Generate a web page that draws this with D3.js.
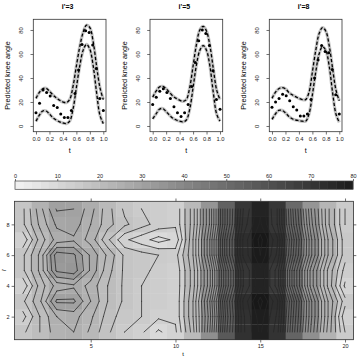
<!DOCTYPE html>
<html>
<head>
<meta charset="utf-8">
<script src="https://cdn.jsdelivr.net/npm/d3@7"></script>
<style>
  body { margin: 0; background: #fff; }
  text { font-family: "Liberation Sans", Arial, sans-serif; }
</style>
</head>
<body>
<div class="container"></div>
<script>
// ---- top panels: predicted knee angle curves ----
const panelTitles = ["i'=3", "i'=5", "i'=8"]
const curveT = [0, 0.05, 0.1, 0.15, 0.2, 0.25, 0.3, 0.35, 0.4, 0.45, 0.5, 0.55, 0.6, 0.65, 0.7, 0.75, 0.8, 0.85, 0.9, 0.95, 1]
const dotT = [0, 0.053, 0.105, 0.158, 0.211, 0.263, 0.316, 0.368, 0.421, 0.474, 0.526, 0.579, 0.632, 0.684, 0.737, 0.789, 0.842, 0.895, 0.947, 1]
const xTicksTop = [0, 0.2, 0.4, 0.6, 0.8, 1]
const yTicksTop = [0, 20, 40, 60, 80]

const upper3 = [23, 28, 31, 31.5, 29, 26, 23.5, 21.5, 20, 19.5, 22, 33, 50, 66, 78, 84, 82, 70, 50, 32, 22]
const lower3 = [4, 9, 12.5, 12.5, 10, 7, 5, 3.5, 2.5, 2, 4, 14, 32, 50, 63, 68, 64, 50, 28, 9, 2]
const dots3 = [11, 19, 30, 28, 25, 17, 15.5, 10, 7, 7, 13, 27, 46.7, 68, 79.4, 77.8, 67.5, 48, 23, 13]

const upper5 = [24, 29, 32.5, 33, 31, 28, 25, 23, 21.5, 20.5, 22, 32, 50, 68, 80, 83, 79, 67, 48, 30, 22]
const lower5 = [6, 10, 14, 14.5, 12, 9, 6.5, 5, 4, 3.5, 5, 14, 32, 51, 63, 67, 63, 50, 28, 10, 4]
const dots5 = [18, 24, 29, 31, 28, 23, 16, 11, 8, 11, 18, 33, 53, 71, 80, 77, 67, 46, 22, 14]

const upper8 = [23, 28, 31, 32, 31, 28, 26, 24.5, 23, 22, 22, 28, 45, 63, 77, 82, 79, 67, 48, 30, 21]
const lower8 = [5.5, 10, 13, 13, 11, 8, 6, 5, 4.5, 4, 4, 10, 26, 45, 60, 66, 63, 50, 28, 10, 3]
const dots8 = [15.6, 20, 23, 26.4, 25.3, 21, 16, 13.3, 8.3, 8.3, 10, 22, 40, 55, 67, 62, 61, 47, 26, 10]

// ---- bottom panel: level plot over t (1..20) and i' (1..9) ----
const tIndex = [1, 2, 3, 4, 5, 6, 7, 8, 9, 10, 11, 12, 13, 14, 15, 16, 17, 18, 19, 20]
const iIndex = [1, 2, 3, 4, 5, 6, 7, 8, 9]
// one row per i' (bottom to top), 20 values along t
const kneeGrid = [
  [17, 20, 24, 25, 22, 18, 15, 13, 9.5, 12, 21, 37, 57, 72, 78, 71, 53, 37, 24, 15],
  [14, 20, 25, 26, 23, 19, 16, 15, 13, 13, 22, 36, 56, 72, 79, 72, 54, 38, 25, 13],
  [17, 22, 30.5, 30.5, 25, 20, 17, 15, 14, 13, 22, 37, 57, 73, 81, 73, 55, 38, 25, 16],
  [13, 21, 26, 27, 24, 20, 17, 15, 14, 13, 21, 34, 53, 70, 77, 69, 50, 34, 22, 12],
  [17, 23, 33, 34, 27, 21, 17, 16, 14, 13, 21, 34, 53, 70, 77, 69, 50, 34, 22, 14],
  [17, 23, 34, 33, 27, 22, 17, 16, 15, 14, 22, 37, 57, 73, 80, 72, 54, 38, 25, 16],
  [13, 21, 26, 27, 24, 18, 13, 11, 9, 10.5, 22, 37, 57, 73, 81, 73, 55, 38, 25, 16],
  [17, 23, 28, 29, 25, 21, 18, 16, 14, 13, 21, 35, 54, 71, 78, 70, 52, 36, 23, 15],
  [17, 24, 30.3, 30, 26, 21, 17, 15, 14, 13, 21, 35, 54, 70, 77, 70, 51, 35, 23, 15]
]
const colorTicks = [0, 10, 20, 30, 40, 50, 60, 70, 80]
const xTicksBottom = [5, 10, 15, 20]
const yTicksBottom = [2, 4, 6, 8]

const svg = d3.select('.container')
  .append('svg')
  .attr('width', 358)
  .attr('height', 358)

// ---------- top panels ----------
const panels = [
  { title: panelTitles[0], up: upper3, lo: lower3, dots: dots3, left: 33.3 },
  { title: panelTitles[1], up: upper5, lo: lower5, dots: dots5, left: 150 },
  { title: panelTitles[2], up: upper8, lo: lower8, dots: dots8, left: 269.3 }
]
const pw = 72.7
const pTop = 19.3
const pBottom = 131.7

panels.forEach(p => {
  const x = d3.scaleLinear().domain([-0.04, 1.04]).range([p.left, p.left + pw])
  const y = d3.scaleLinear().domain([-4.75, 88.9]).range([pBottom, pTop])
  const g = svg.append('g')

  const line = d3.line()
    .x((d, i) => x(curveT[i]))
    .y(d => y(d))
    .curve(d3.curveCatmullRom)

  ;[p.up, p.lo].forEach(arr => {
    g.append('path').attr('d', line(arr))
      .attr('fill', 'none').attr('stroke', '#c4c4c4').attr('stroke-width', 3.2)
  })
  ;[p.up, p.lo].forEach(arr => {
    g.append('path').attr('d', line(arr))
      .attr('fill', 'none').attr('stroke', '#000').attr('stroke-width', 1.3)
      .attr('stroke-dasharray', '3.2,2')
  })

  g.selectAll('circle')
    .data(p.dots)
    .enter()
    .append('circle')
    .attr('cx', (d, i) => x(dotT[i]))
    .attr('cy', d => y(d))
    .attr('r', 1.5)
    .attr('fill', '#000')

  g.append('rect')
    .attr('x', p.left).attr('y', pTop)
    .attr('width', pw).attr('height', pBottom - pTop)
    .attr('fill', 'none').attr('stroke', '#333').attr('stroke-width', 0.8)

  const xAxis = g.append('g')
    .attr('transform', `translate(0, ${pBottom})`)
    .call(d3.axisBottom(x).tickValues(xTicksTop).tickFormat(d3.format('.1f')).tickSize(2.8).tickPadding(2))
  xAxis.select('.domain').remove()

  const yAxis = g.append('g')
    .attr('transform', `translate(${p.left}, 0)`)
    .call(d3.axisLeft(y).tickValues(yTicksTop).tickSize(2.8))
  yAxis.select('.domain').remove()
  yAxis.selectAll('text')
    .attr('transform', 'rotate(-90)')
    .attr('x', 0).attr('y', -10.3).attr('dy', 0)
    .attr('text-anchor', 'middle')

  ;[xAxis, yAxis].forEach(a => {
    a.selectAll('line').attr('stroke', '#333').attr('stroke-width', 0.7)
    a.selectAll('text').attr('font-size', 5.8).attr('fill', '#222').attr('font-family', 'Liberation Sans, Arial, sans-serif')
  })

  g.append('text')
    .text(p.title)
    .attr('x', p.left + pw / 2 - 2)
    .attr('y', 9)
    .attr('text-anchor', 'middle')
    .attr('font-size', 7)
    .attr('font-weight', 'bold')

  g.append('text')
    .text('t')
    .attr('x', p.left + pw / 2)
    .attr('y', 153)
    .attr('text-anchor', 'middle')
    .attr('font-size', 7)

  g.append('text')
    .text('Predicted knee angle')
    .attr('transform', `translate(${p.left - 23.5}, ${(pTop + pBottom) / 2}) rotate(-90)`)
    .attr('text-anchor', 'middle')
    .attr('font-size', 7.3)
})

// ---------- bottom level plot ----------
const gray = d3.scaleLinear().domain([0, 80]).range(['#f3f3f3', '#1b1b1b'])
const hx = d3.scaleLinear().domain([0.5, 20.5]).range([14.4, 353.5])
const hy = d3.scaleLinear().domain([0.5, 9.5]).range([339.7, 201.3])

const cells = []
kneeGrid.forEach((row, j) => row.forEach((v, i) => cells.push({ t: tIndex[i], r: iIndex[j], v })))

svg.append('g').selectAll('rect')
  .data(cells)
  .enter()
  .append('rect')
  .attr('x', d => hx(d.t - 0.5))
  .attr('y', d => hy(d.r + 0.5))
  .attr('width', hx(1.5) - hx(0.5) + 0.3)
  .attr('height', hy(0.5) - hy(1.5) + 0.3)
  .attr('fill', d => gray(d.v))

// marching squares on the grid points (t, i')
function isoSegments(grid, level) {
  const segs = []
  for (let j = 0; j < grid.length - 1; j++) {
    for (let i = 0; i < grid[0].length - 1; i++) {
      const v = [grid[j][i], grid[j][i + 1], grid[j + 1][i + 1], grid[j + 1][i]]
      const c = [[i, j], [i + 1, j], [i + 1, j + 1], [i, j + 1]]
      const pts = []
      for (let e = 0; e < 4; e++) {
        const a = v[e], b = v[(e + 1) % 4]
        if ((a > level) !== (b > level)) {
          const f = (level - a) / (b - a)
          const pa = c[e], pb = c[(e + 1) % 4]
          pts.push([pa[0] + f * (pb[0] - pa[0]), pa[1] + f * (pb[1] - pa[1])])
        }
      }
      if (pts.length === 2) segs.push(pts)
      else if (pts.length === 4) {
        const mid = (v[0] + v[1] + v[2] + v[3]) / 4
        if ((mid > level) === (v[0] > level)) {
          segs.push([pts[0], pts[1]]); segs.push([pts[2], pts[3]])
        } else {
          segs.push([pts[3], pts[0]]); segs.push([pts[1], pts[2]])
        }
      }
    }
  }
  return segs
}

const levels = d3.range(2.5, 80.1, 2.5)
const contourG = svg.append('g')
levels.forEach(lv => {
  const segs = isoSegments(kneeGrid, lv)
  if (!segs.length) return
  const d = segs.map(s => {
    const [p0, p1] = s
    return `M${hx(tIndex[0] + p0[0])},${hy(iIndex[0] + p0[1])}L${hx(tIndex[0] + p1[0])},${hy(iIndex[0] + p1[1])}`
  }).join('')
  contourG.append('path')
    .attr('d', d)
    .attr('fill', 'none')
    .attr('stroke', '#262626')
    .attr('stroke-width', 0.75)
    .attr('stroke-linecap', 'round')
})

svg.append('rect')
  .attr('x', hx(0.5)).attr('y', hy(9.5))
  .attr('width', hx(20.5) - hx(0.5)).attr('height', hy(0.5) - hy(9.5))
  .attr('fill', 'none').attr('stroke', '#333').attr('stroke-width', 0.8)

function styleAxis(a, labels) {
  a.select('.domain').remove()
  a.selectAll('line').attr('stroke', '#333').attr('stroke-width', 0.7)
  a.selectAll('text').attr('font-size', 5.5).attr('fill', '#222')
    .attr('font-family', 'Liberation Sans, Arial, sans-serif')
  if (!labels) a.selectAll('text').remove()
}

styleAxis(svg.append('g').attr('transform', `translate(0, ${hy(0.5)})`)
  .call(d3.axisBottom(hx).tickValues(xTicksBottom).tickSize(2.8).tickPadding(2)), true)
styleAxis(svg.append('g').attr('transform', `translate(0, ${hy(9.5)})`)
  .call(d3.axisTop(hx).tickValues(xTicksBottom).tickSize(2.8)), false)
styleAxis(svg.append('g').attr('transform', `translate(${hx(0.5)}, 0)`)
  .call(d3.axisLeft(hy).tickValues(yTicksBottom).tickSize(2.8).tickPadding(2)), true)
styleAxis(svg.append('g').attr('transform', `translate(${hx(20.5)}, 0)`)
  .call(d3.axisRight(hy).tickValues(yTicksBottom).tickSize(2.8)), false)

svg.append('text').text('t')
  .attr('x', 183).attr('y', 355.5)
  .attr('text-anchor', 'middle').attr('font-size', 6)
svg.append('text').text("i'")
  .attr('transform', `translate(5.5, 270) rotate(-90)`)
  .attr('text-anchor', 'middle').attr('font-size', 6)

// ---------- colour key ----------
const cx = d3.scaleLinear().domain([0, 80]).range([15, 353])
const keySteps = d3.range(0, 80, 2)
svg.append('g').selectAll('rect')
  .data(keySteps)
  .enter()
  .append('rect')
  .attr('x', d => cx(d))
  .attr('y', 181)
  .attr('width', cx(2) - cx(0) + 0.3)
  .attr('height', 8.3)
  .attr('fill', d => gray(d + 1))
svg.append('rect')
  .attr('x', cx(0)).attr('y', 181)
  .attr('width', cx(80) - cx(0)).attr('height', 8.3)
  .attr('fill', 'none').attr('stroke', '#444').attr('stroke-width', 0.7)
styleAxis(svg.append('g').attr('transform', 'translate(0, 181)')
  .call(d3.axisTop(cx).tickValues(colorTicks).tickSize(2).tickPadding(1.5)), true)
</script>
</body>
</html>
